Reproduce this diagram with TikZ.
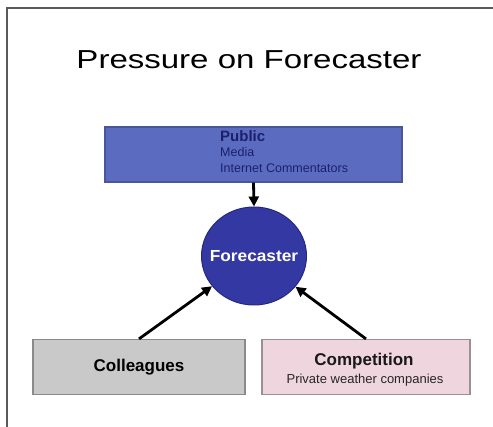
\documentclass[tikz,border=0pt]{standalone}
\usepackage{fontspec}
\setmainfont{Liberation Sans}
\usetikzlibrary{shapes.geometric,arrows.meta}
\definecolor{pubfill}{HTML}{5B6CC0}
\definecolor{pubtext}{HTML}{1C1F6E}
\definecolor{fcfill}{HTML}{3338A2}
\definecolor{fcdraw}{HTML}{26297A}
\definecolor{colfill}{HTML}{C9C9C9}
\definecolor{colborder}{HTML}{8A8A8A}
\definecolor{compfill}{HTML}{EFD6DE}
\definecolor{compborder}{HTML}{9C8E96}
\definecolor{framecol}{HTML}{5A5A5A}
\tikzset{
  boxbase/.style={rectangle, inner sep=0pt, line width=1.2pt},
  pushed/.style={-{Triangle[length=10pt,width=10pt]}, line width=2.8pt, black},
}
\begin{document}
\begin{tikzpicture}[x=1pt,y=-1pt]
\useasboundingbox (0,0) rectangle (493,427);
\fill[white] (0,0) rectangle (493,427);
% frame
\coordinate (ftr) at (493,8);
\coordinate (ftl) at (7,8);
\coordinate (fbl) at (7,427);
\draw[framecol, line width=1.4pt] (ftr) -- (ftl) -- (fbl);
% title
\node (title) at (249,60) {\scalebox{1.27}[1]{\fontsize{26}{30}\selectfont Pressure on Forecaster}};
% public
\node[boxbase, fill=pubfill, draw=pubfill!80!black, minimum width=297pt, minimum height=55pt] (pub) at (253.5,154.5) {};
\node[anchor=north west, inner sep=0pt, align=left, text=pubtext, font=\fontsize{12.5}{15.5}\selectfont] (pubtxt) at (220,130)
  {{\fontsize{15}{15.5}\selectfont\bfseries Public}\\Media\\Internet Commentators};
% forecaster
\node[ellipse, fill=fcfill, draw=fcdraw, line width=1pt, minimum width=105pt, minimum height=98pt, inner sep=0pt] (fc) at (254,256) {};
\node[text=white, font=\fontsize{16}{18}\selectfont\bfseries] (fctxt) at (fc.center) {\scalebox{1.08}[1]{Forecaster}};
% colleagues
\node[boxbase, fill=colfill, draw=colborder, minimum width=212pt, minimum height=55pt, font=\fontsize{17}{19}\selectfont\bfseries] (col) at (139,367) {Colleagues};
% competition
\node[boxbase, fill=compfill, draw=compborder, minimum width=208pt, minimum height=55pt] (comp) at (366,367) {};
\node[font=\fontsize{17}{19}\selectfont\bfseries, text=black!90] (comptitle) at (364,361) {Competition};
\node[font=\fontsize{13}{15}\selectfont, text=black!85] (compsub) at (365,380) {Private weather companies};
% arrows
\draw[pushed] (pub.south) -- (fc.north);
\draw[pushed] (col.north) -- (fc);
\draw[pushed] (comp.north) -- (fc);
\end{tikzpicture}
\end{document}
